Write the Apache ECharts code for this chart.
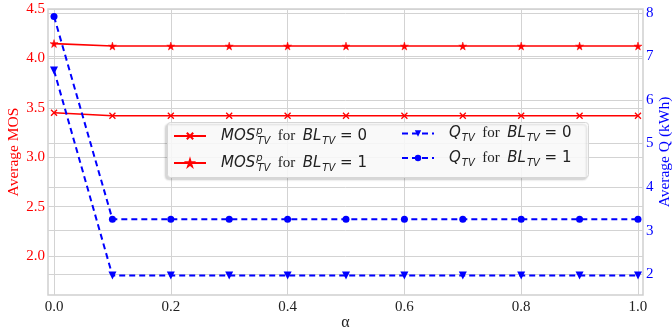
<!DOCTYPE html>
<html>
<head>
<meta charset="utf-8">
<script src="https://cdn.jsdelivr.net/npm/echarts@6/dist/echarts.min.js"></script>
<style>
  html, body { margin: 0; padding: 0; background: #fff; }
  #chart { width: 672px; height: 335px; }
</style>
</head>
<body>
<div id="chart"></div>
<script>
// data
let alpha = [0, 0.1, 0.2, 0.3, 0.4, 0.5, 0.6, 0.7, 0.8, 0.9, 1.0];
let mosBL0 = [3.45, 3.42, 3.42, 3.42, 3.42, 3.42, 3.42, 3.42, 3.42, 3.42, 3.42];
let mosBL1 = [4.15, 4.125, 4.125, 4.125, 4.125, 4.125, 4.125, 4.125, 4.125, 4.125, 4.125];
let qBL0 = [6.68, 1.97, 1.97, 1.97, 1.97, 1.97, 1.97, 1.97, 1.97, 1.97, 1.97];
let qBL1 = [7.92, 3.26, 3.26, 3.26, 3.26, 3.26, 3.26, 3.26, 3.26, 3.26, 3.26];
let xTicks = [0, 0.2, 0.4, 0.6, 0.8, 1.0];
let mosTicks = [2.0, 2.5, 3.0, 3.5, 4.0, 4.5];
let qTicks = [2, 3, 4, 5, 6, 7, 8];

function pairs(ys) {
  return alpha.map(function (x, i) { return [x, ys[i]]; });
}

const RED = '#ff0000';
const BLUE = '#0000ff';
const SERIF = '"Liberation Serif", "DejaVu Serif", serif';
const SANS = '"DejaVu Sans", sans-serif';

const starPath = 'path://M50,0 L61,35 L98,35 L68,57 L79,91 L50,70 L21,91 L32,57 L2,35 L39,35 Z';
const crossPath = 'path://M0,0 L10,10 M10,0 L0,10';

const labels = {
  mos0: '{i|MOS}{sup|p}{sub|TV}{f|  for  }{i|BL}{sub|TV}{n| = 0}',
  mos1: '{i|MOS}{sup|p}{sub|TV}{f|  for  }{i|BL}{sub|TV}{n| = 1}',
  q0: '{i|Q}{sub|TV}{f|  for  }{i|BL}{sub|TV}{n| = 0}',
  q1: '{i|Q}{sub|TV}{f|  for  }{i|BL}{sub|TV}{n| = 1}'
};
const rich = {
  i: { fontFamily: SANS, fontStyle: 'italic', fontSize: 15, color: '#222', lineHeight: 20, verticalAlign: 'middle' },
  sup: { fontFamily: SANS, fontStyle: 'italic', fontSize: 10, color: '#222', width: 0, lineHeight: 8, verticalAlign: 'top', padding: [0, 0, 0, 1] },
  sub: { fontFamily: SANS, fontStyle: 'italic', fontSize: 10, color: '#222', lineHeight: 8, verticalAlign: 'bottom', padding: [0, 0, 0, 1] },
  f: { fontFamily: SERIF, fontSize: 15, color: '#222', lineHeight: 20, verticalAlign: 'middle' },
  n: { fontFamily: SANS, fontSize: 15, color: '#222', lineHeight: 20, verticalAlign: 'middle' }
};

let chart = echarts.init(document.getElementById('chart'), null, { renderer: 'canvas' });

let legendCommon = {
  orient: 'vertical',
  padding: 0,
  itemWidth: 32,
  itemHeight: 8,
  itemGap: 7,
  formatter: function (n) { return labels[n]; },
  textStyle: { rich: rich, padding: [0, 0, 0, 10] }
};

let option = {
  backgroundColor: '#fff',
  animation: false,
  graphic: [{
    type: 'rect',
    left: 167, top: 122,
    shape: { width: 421, height: 55, r: 3 },
    style: { fill: 'rgba(255,255,255,0.85)', stroke: '#d6d6d6', lineWidth: 1,
      shadowColor: 'rgba(0,0,0,0.18)', shadowBlur: 2, shadowOffsetX: -2, shadowOffsetY: 2 },
    z: 10
  }],
  grid: {
    left: 48, right: 29, top: 9, bottom: 40,
    outerBoundsMode: 'none',
    show: true, borderColor: '#cfcfcf', borderWidth: 1.5
  },
  legend: [
    Object.assign({ left: 173, top: 126, data: ['mos0', 'mos1'], z: 20 }, legendCommon),
    Object.assign({ left: 401, top: 126, data: ['q0', 'q1'], z: 20 }, legendCommon)
  ],
  xAxis: {
    type: 'value',
    min: -0.0103, max: 1.0086,
    name: 'α', nameLocation: 'middle', nameGap: 20, nameMoveOverlap: false,
    nameTextStyle: { fontFamily: SERIF, fontSize: 16, color: '#222' },
    axisLine: { show: false },
    axisTick: { show: false, customValues: xTicks },
    axisLabel: { customValues: xTicks, margin: 5, fontFamily: SERIF, fontSize: 15, color: '#222',
      formatter: function (v) { return v.toFixed(1); } },
    splitLine: { show: true, lineStyle: { color: '#d3d3d3', width: 1 } }
  },
  yAxis: [{
    type: 'value', position: 'left',
    min: 1.606, max: 4.5,
    name: 'Average MOS', nameLocation: 'middle', nameGap: 26, nameMoveOverlap: false,
    nameTextStyle: { fontFamily: SERIF, fontSize: 15.5, color: RED },
    axisLine: { show: false },
    axisTick: { show: false, customValues: mosTicks },
    axisLabel: { customValues: mosTicks, margin: 3, fontFamily: SERIF, fontSize: 15, color: RED,
      formatter: function (v) { return v.toFixed(1); } },
    splitLine: { show: true, lineStyle: { color: '#d3d3d3', width: 1 } }
  }, {
    type: 'value', position: 'right',
    min: 1.52, max: 8.09,
    name: 'Average Q (kWh)', nameLocation: 'middle', nameGap: 14, nameRotate: 90, nameMoveOverlap: false,
    nameTextStyle: { fontFamily: SERIF, fontSize: 15.5, color: BLUE },
    axisLine: { show: false },
    axisTick: { show: false, customValues: qTicks },
    axisLabel: { customValues: qTicks, margin: 3, fontFamily: SERIF, fontSize: 15, color: BLUE },
    splitLine: { show: true, lineStyle: { color: '#d3d3d3', width: 1 } }
  }],
  series: [{
    name: 'mos0', type: 'line', yAxisIndex: 0, data: pairs(mosBL0),
    symbol: crossPath, symbolSize: 6,
    lineStyle: { color: RED, width: 1.6 },
    itemStyle: { color: RED, borderColor: RED, borderWidth: 1.3 }
  }, {
    name: 'mos1', type: 'line', yAxisIndex: 0, data: pairs(mosBL1),
    symbol: starPath, symbolSize: 8,
    lineStyle: { color: RED, width: 1.6 },
    itemStyle: { color: RED, borderColor: RED, borderWidth: 0.5 }
  }, {
    name: 'q0', type: 'line', yAxisIndex: 1, data: pairs(qBL0),
    symbol: 'triangle', symbolRotate: 180, symbolSize: 8,
    lineStyle: { color: BLUE, width: 2, type: [6, 4] },
    itemStyle: { color: BLUE }
  }, {
    name: 'q1', type: 'line', yAxisIndex: 1, data: pairs(qBL1),
    symbol: 'circle', symbolSize: 7,
    lineStyle: { color: BLUE, width: 2, type: [6, 4] },
    itemStyle: { color: BLUE }
  }]
};

chart.setOption(option);
</script>
</body>
</html>
